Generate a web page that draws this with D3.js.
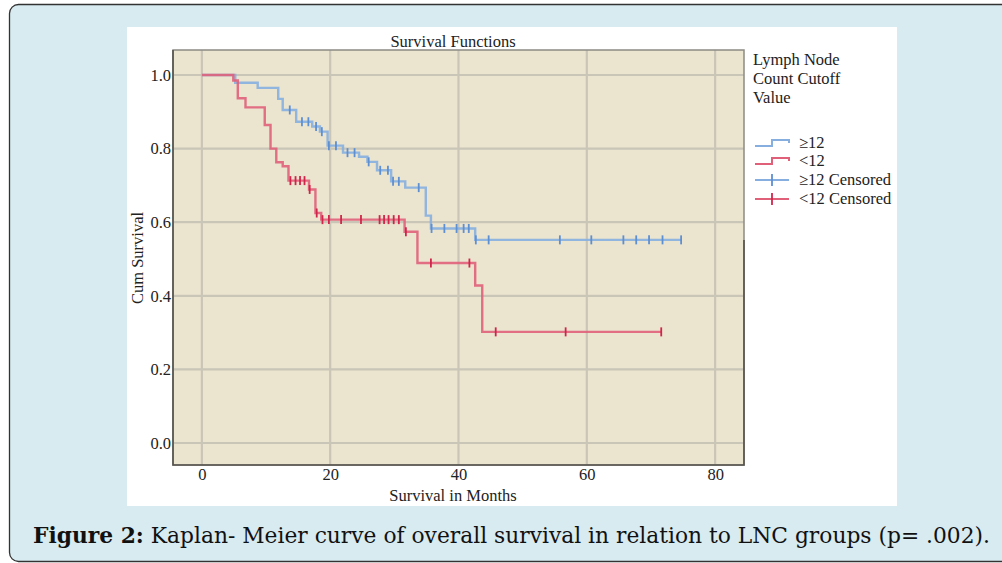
<!DOCTYPE html>
<html>
<head>
<meta charset="utf-8">
<script src="https://cdn.jsdelivr.net/npm/d3@7"></script>
<style>
  html, body { margin: 0; padding: 0; background: #fff; }
  svg { display: block; }
</style>
</head>
<body>
<div class="km-container"></div>
<script>
"use strict";

// step points: [month, cumulative survival after the event]
const stepsHigh = [
  [0, 1.0], [5.2, 0.979], [8.7, 0.965], [11.9, 0.935], [12.6, 0.905],
  [14.7, 0.873], [17.2, 0.86], [18.4, 0.846], [19.6, 0.808], [22.0, 0.789],
  [24.5, 0.778], [25.8, 0.764], [27.3, 0.741], [29.5, 0.711], [31.7, 0.694],
  [34.9, 0.618], [35.7, 0.583], [42.6, 0.552]
];
const censHigh = [13.7, 15.6, 16.6, 17.8, 18.7, 19.8, 20.9, 22.7, 23.8, 26.0, 27.8, 29.0,
  29.8, 30.7, 33.8, 35.8, 37.8, 39.7, 40.8, 41.6, 42.7, 44.7, 55.8, 60.7, 65.7, 67.7,
  69.7, 71.8, 74.7];
const endHigh = 74.7;

const stepsLow = [
  [0, 1.0], [4.9, 0.985], [5.6, 0.937], [6.8, 0.912], [9.8, 0.864], [10.7, 0.80],
  [11.6, 0.763], [12.6, 0.752], [13.5, 0.713], [16.7, 0.689], [17.7, 0.625],
  [18.6, 0.607], [31.6, 0.574], [33.6, 0.489], [42.6, 0.428], [43.7, 0.302]
];
const censLow = [13.8, 14.6, 15.3, 16.0, 16.8, 17.9, 18.8, 19.8, 21.7, 24.8, 27.7, 28.4,
  29.1, 29.9, 30.7, 31.8, 35.7, 41.7, 45.8, 56.7, 71.6];
const endLow = 71.6;

const xTicks = [0, 20, 40, 60, 80];
const yTicks = [0.0, 0.2, 0.4, 0.6, 0.8, 1.0];
const legendTitle = ["Lymph Node", "Count Cutoff", "Value"];
const legendItems = ["\u226512", "<12", "\u226512 Censored", "<12 Censored"];

const W = 1002, H = 563;
const blue = "#86afdf", blueDark = "#5d8fd3";
const red = "#e0607a", redDark = "#d2244a";

const svg = d3.select(".km-container").append("svg")
  .attr("width", W).attr("height", H);

// outer figure box
svg.append("rect").attr("x", 9.5).attr("y", 4.5).attr("width", 1010).attr("height", 557)
  .attr("rx", 9).attr("fill", "#d7ebf1").attr("stroke", "#333").attr("stroke-width", 1.3);

// white chart panel
svg.append("rect").attr("x", 127).attr("y", 27).attr("width", 770).attr("height", 479)
  .attr("fill", "#fff");

const plot = { left: 173, right: 744, top: 50, bottom: 465 };
const x = d3.scaleLinear().domain([-4.5, 84.5]).range([plot.left, plot.right]);
const y = d3.scaleLinear().domain([1.0, 0.0]).range([75, 443]);

svg.append("rect").attr("x", plot.left).attr("y", plot.top)
  .attr("width", plot.right - plot.left).attr("height", plot.bottom - plot.top)
  .attr("fill", "#ebe4cf");

// grid
const grid = svg.append("g").attr("stroke", "#c9c6b8").attr("stroke-width", 2.2);
grid.selectAll("line.v").data(xTicks).join("line").attr("class", "v")
  .attr("x1", d => x(d)).attr("x2", d => x(d)).attr("y1", plot.top).attr("y2", plot.bottom);
grid.selectAll("line.h").data(yTicks).join("line").attr("class", "h")
  .attr("y1", d => y(d)).attr("y2", d => y(d)).attr("x1", plot.left).attr("x2", plot.right);

// frame
svg.append("rect").attr("x", plot.left).attr("y", plot.top)
  .attr("width", plot.right - plot.left).attr("height", plot.bottom - plot.top)
  .attr("fill", "none").attr("stroke", "#8c8a84").attr("stroke-width", 1.5);
svg.append("path")
  .attr("d", `M${plot.left},${plot.top}V${plot.bottom}H${plot.right}V${plot.top + 190}`)
  .attr("fill", "none").attr("stroke", "#55534e").attr("stroke-width", 1.6);

// axes
const fontFam = "'Liberation Serif', 'Times New Roman', serif";
const fs = 16.5;
const xAxis = svg.append("g").attr("transform", `translate(0,${plot.bottom})`)
  .call(d3.axisBottom(x).tickValues(xTicks).tickSize(0).tickPadding(3));
const yAxis = svg.append("g").attr("transform", `translate(${plot.left},0)`)
  .call(d3.axisLeft(y).tickValues(yTicks).tickSize(0).tickPadding(2).tickFormat(d3.format(".1f")));
[xAxis, yAxis].forEach(a => {
  a.select(".domain").remove();
  a.selectAll("text").attr("font-family", fontFam).attr("font-size", fs).attr("fill", "#222");
});

svg.append("text").attr("x", 453).attr("y", 47).attr("text-anchor", "middle")
  .attr("font-family", fontFam).attr("font-size", fs).attr("fill", "#222").text("Survival Functions");
svg.append("text").attr("x", 453).attr("y", 501).attr("text-anchor", "middle")
  .attr("font-family", fontFam).attr("font-size", fs).attr("fill", "#222").text("Survival in Months");
svg.append("text").attr("transform", "translate(143,258) rotate(-90)").attr("text-anchor", "middle")
  .attr("font-family", fontFam).attr("font-size", fs).attr("fill", "#222").text("Cum Survival");

// survival curves
function stepPath(steps, end) {
  const pts = steps.concat([[end, steps[steps.length - 1][1]]]);
  return d3.line().curve(d3.curveStepAfter).x(d => x(d[0])).y(d => y(d[1]))(pts);
}
function survAt(steps, t) {
  let s = 1;
  steps.forEach(d => { if (d[0] <= t) s = d[1]; });
  return s;
}
function drawCurve(steps, cens, end, col, dark) {
  const g = svg.append("g");
  g.append("path").attr("d", stepPath(steps, end)).attr("fill", "none")
    .attr("stroke", col).attr("stroke-width", 2.4).attr("stroke-opacity", 0.9);
  g.selectAll("line").data(cens).join("line")
    .attr("x1", d => x(d)).attr("x2", d => x(d))
    .attr("y1", d => y(survAt(steps, d)) - 4.5).attr("y2", d => y(survAt(steps, d)) + 4.5)
    .attr("stroke", dark).attr("stroke-width", 1.8);
}
drawCurve(stepsHigh, censHigh, endHigh, blue, blueDark);
drawCurve(stepsLow, censLow, endLow, red, redDark);

// legend
const lg = svg.append("g").attr("font-family", fontFam).attr("font-size", fs).attr("fill", "#222");
lg.selectAll("text.t").data(legendTitle).join("text").attr("class", "t")
  .attr("x", 753).attr("y", (d, i) => 65 + i * 19).text(d => d);
const legendY = [143, 161, 180, 199];
const legendCol = [[blue, blueDark], [red, redDark], [blue, blueDark], [red, redDark]];
legendItems.forEach((name, i) => {
  const yy = legendY[i];
  if (i < 2) {
    lg.append("path").attr("d", `M755,${yy + 3}H772V${yy - 3}H789V${yy}`)
      .attr("fill", "none").attr("stroke", legendCol[i][0]).attr("stroke-width", 2);
  } else {
    lg.append("line").attr("x1", 755).attr("x2", 789).attr("y1", yy).attr("y2", yy)
      .attr("stroke", legendCol[i][0]).attr("stroke-width", 2);
    lg.append("line").attr("x1", 772).attr("x2", 772).attr("y1", yy - 6).attr("y2", yy + 6)
      .attr("stroke", legendCol[i][1]).attr("stroke-width", 1.8);
  }
  lg.append("text").attr("x", 799).attr("y", yy + 5).text(name);
});

// caption
const cap = svg.append("text").attr("x", 33).attr("y", 543)
  .attr("font-family", "'DejaVu Serif', 'Liberation Serif', serif").attr("font-size", 21.5).attr("fill", "#111");
cap.append("tspan").attr("font-weight", "bold").text("Figure 2:");
cap.append("tspan").text(" Kaplan- Meier curve of overall survival in relation to LNC groups (p= .002).");
cap.attr("textLength", 957).attr("lengthAdjust", "spacingAndGlyphs");
</script>
</body>
</html>
